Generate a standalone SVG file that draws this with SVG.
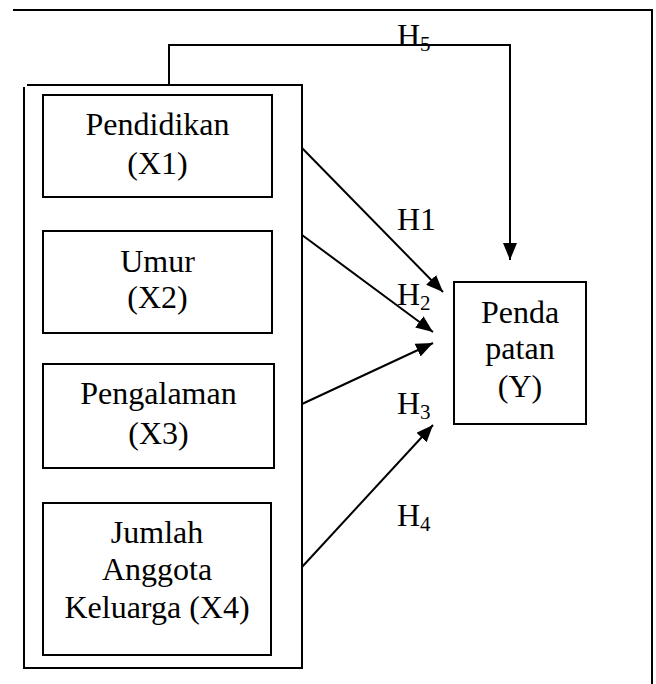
<svg xmlns="http://www.w3.org/2000/svg" width="656" height="684" viewBox="0 0 656 684">
<style>
.ln{fill:none;stroke:#000;stroke-width:2}
.bx{fill:#fff;stroke:#000;stroke-width:2}
.t{font-family:"Liberation Serif","Times New Roman",serif;font-size:32px;fill:#000}
.c{text-anchor:middle}
</style>
<defs>
<marker id="ah" markerUnits="userSpaceOnUse" markerWidth="18" markerHeight="14" refX="17" refY="7" orient="auto">
<path d="M0,0 L17,7 L0,14 z" fill="#000"/>
</marker>
</defs>
<g id="frame">
<path class="ln" d="M13,10 H652 V684"/>
</g>
<g id="group-X">
<path class="ln" d="M27,85 H302 V668 H24 V87"/>
</g>
<g id="X1">
<rect class="bx" x="43" y="95" width="229" height="102"/>
<text class="t c" x="157.5" y="135">Pendidikan</text>
<text class="t c" x="157.5" y="174">(X1)</text>
</g>
<g id="X2">
<rect class="bx" x="43" y="231" width="229" height="102"/>
<text class="t c" x="157.5" y="272">Umur</text>
<text class="t c" x="157.5" y="308">(X2)</text>
</g>
<g id="X3">
<rect class="bx" x="43" y="364" width="231" height="104"/>
<text class="t c" x="158.5" y="404">Pengalaman</text>
<text class="t c" x="158.5" y="444">(X3)</text>
</g>
<g id="X4">
<rect class="bx" x="43" y="503" width="228" height="152"/>
<text class="t c" x="157" y="543">Jumlah</text>
<text class="t c" x="157" y="580">Anggota</text>
<text class="t c" x="157" y="618">Keluarga (X4)</text>
</g>
<g id="Y">
<rect class="bx" x="454" y="282" width="132" height="142"/>
<text class="t c" x="520" y="323">Penda</text>
<text class="t c" x="520" y="359">patan</text>
<text class="t c" x="520" y="397">(Y)</text>
</g>
<g id="connectors">
<path class="ln" d="M169,85 V45 H510 V260" marker-end="url(#ah)"/>
<line class="ln" x1="302" y1="148" x2="443" y2="292" marker-end="url(#ah)"/>
<line class="ln" x1="302" y1="235" x2="433" y2="332" marker-end="url(#ah)"/>
<line class="ln" x1="302" y1="404" x2="433" y2="343" marker-end="url(#ah)"/>
<line class="ln" x1="302" y1="567" x2="433" y2="425" marker-end="url(#ah)"/>
</g>
<g id="labels">
<text class="t" x="397" y="46">H<tspan font-size="21" dy="5">5</tspan></text>
<text class="t" x="397" y="230">H1</text>
<text class="t" x="397" y="305">H<tspan font-size="21" dy="5">2</tspan></text>
<text class="t" x="397" y="414">H<tspan font-size="21" dy="5">3</tspan></text>
<text class="t" x="397" y="526">H<tspan font-size="21" dy="5">4</tspan></text>
</g>
</svg>
